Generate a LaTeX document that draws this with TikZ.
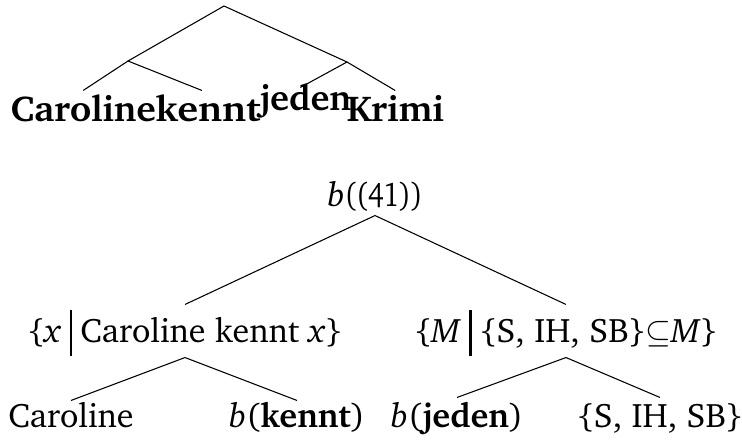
\documentclass[tikz,border=0pt]{standalone}
\usepackage[T1]{fontenc}
\usepackage{charter}
\usepackage{graphicx}
% tall separator bar used inside the set-builder labels
\newcommand{\setbar}{\hspace{0.25em}\rule[-10.5pt]{1.6pt}{34.5pt}\hspace{0.25em}}

\begin{document}
\begin{tikzpicture}[x=0.75pt,y=-0.75pt,line width=0.8pt,
  word/.style={inner sep=0pt,anchor=base west,font=\fontsize{27}{30}\selectfont\bfseries,
               text height=22.5pt,text depth=0pt},
  rootlbl/.style={inner sep=0pt,anchor=base,font=\fontsize{25.5}{30}\selectfont,
               text height=18pt,text depth=6.75pt},
  midlbl/.style={inner sep=0pt,anchor=base,font=\fontsize{25.5}{30}\selectfont,
               text height=27.75pt,text depth=11.25pt},
  leaflbl/.style={inner sep=0pt,anchor=base,font=\fontsize{25.5}{30}\selectfont,
               text height=19.5pt,text depth=6pt},
  branch/.style={draw=black}]
\useasboundingbox (0,0) rectangle (742,439);

% ---- syntax tree ----
\coordinate (t0) at (224,6);
\coordinate (t1) at (128,61);
\coordinate (t2) at (347,62);
\node[word] (w1) at (10,121)  {\scalebox{1.03}[1]{Caroline}};
\node[word] (w2) at (155,121) {\scalebox{1.1}[1]{kennt}};
\node[word,text height=16.5pt] (w3) at (259,110) {jeden};
\node[word] (w4) at (346,121) {\scalebox{1.05}[1]{Krimi}};

\draw[branch] (t1) -- (t0) -- (t2);
\draw[branch] (w1.north) -- (t1) -- ([xshift=-4.5pt]w2.north);
\draw[branch] ([xshift=-3.75pt]w3.north) -- (t2) -- (w4.north);

% ---- semantic tree ----
\node[rootlbl] (r) at (375,206) {\textit{b}\scalebox{0.82}[1]{((41))}};
\node[midlbl] (lc) at (185,342) {\{\textit{x}\setbar Caroline kennt \textit{x}\}};
\node[midlbl] (rc) at (566,342) {\{\textit{M}\setbar\{S, IH, SB\}$\subseteq$\textit{M}\}};
\node[leaflbl] (l1) at (71,427)  {Caroline};
\node[leaflbl] (l2) at (297,427) {\textit{b}(\textbf{kennt})};
\node[leaflbl,text height=21.75pt] (l3) at (457,427) {\textit{b}(\textbf{jeden})};
\node[leaflbl,text height=21.75pt] (l4) at (660,427) {\{S, IH, SB\}};

\draw[branch] (lc.north) -- (r.south) -- (rc.north);
\draw[branch] (l1.north) -- (lc.south) -- (l2.north);
\draw[branch] (l3.north) -- (rc.south) -- (l4.north);
\end{tikzpicture}
\end{document}
